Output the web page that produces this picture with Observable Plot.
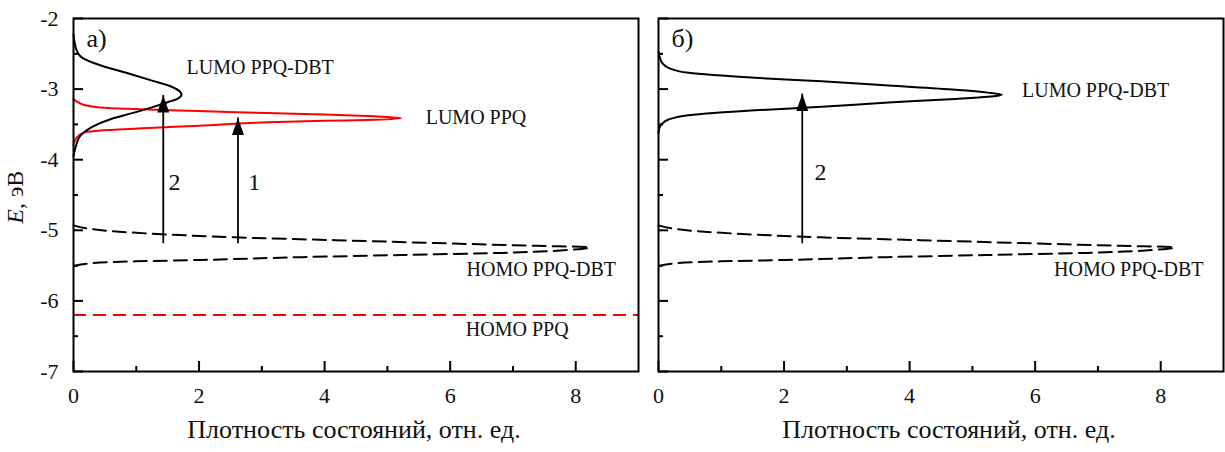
<!DOCTYPE html>
<html><head><meta charset="utf-8">
<script src="https://cdn.jsdelivr.net/npm/d3@7"></script>
<script src="https://cdn.jsdelivr.net/npm/@observablehq/plot@0.6"></script>
<style>
body{margin:0;background:#fff}
#c{position:relative;width:1225px;height:452px;overflow:hidden}
#c svg{position:absolute;top:0}
#c svg text{font-family:'Liberation Serif','Times New Roman',serif !important}
</style>
</head><body><div id="c"></div>
<script>
// ---- data (energy E in eV, density of states in rel. units) ----
const lumoDBT_a_E = [-2.22,-2.35,-2.45,-2.55,-2.67,-2.78,-2.88,-2.97,-3.03,-3.08,-3.13,-3.18,-3.23,-3.33,-3.42,-3.54,-3.66,-3.80,-3.95];
const lumoDBT_a_D = [0,0.02,0.05,0.13,0.45,0.88,1.25,1.57,1.69,1.72,1.67,1.52,1.35,0.98,0.61,0.29,0.11,0.04,0];

const lumoPPQ_E = [-3.14,-3.19,-3.24,-3.27,-3.29,-3.31,-3.34,-3.36,-3.385,-3.41,-3.435,-3.45,-3.47,-3.52,-3.55,-3.58,-3.62,-3.70,-3.78];
const lumoPPQ_D = [0,0.08,0.25,0.6,1.2,2.0,3.1,4.0,4.8,5.22,4.8,4.0,3.1,2.0,1.2,0.55,0.15,0.04,0];

const lumoDBT_b_E = [-2.47,-2.55,-2.63,-2.70,-2.77,-2.84,-2.89,-2.95,-3.01,-3.05,-3.08,-3.11,-3.14,-3.19,-3.25,-3.30,-3.37,-3.43,-3.50,-3.56,-3.62];
const lumoDBT_b_D = [0,0.02,0.06,0.16,0.48,1.54,2.60,3.66,4.73,5.25,5.47,5.25,4.73,3.66,2.60,1.54,0.48,0.16,0.05,0.01,0];

const homoDBT_E = [-4.93,-4.97,-5.00,-5.06,-5.10,-5.14,-5.18,-5.22,-5.24,-5.28,-5.32,-5.35,-5.38,-5.42,-5.44,-5.47,-5.51];
const homoDBT_D = [0,0.2,0.45,1.51,2.58,4.17,5.76,7.36,8.22,7.87,6.82,5.23,3.64,2.04,0.98,0.24,0];

const homoPPQ = [-6.2];

const xMajor = [0,2,4,6,8];
const xMinor = [1,3,5,7];
const yMajor = [-2,-3,-4,-5,-6,-7];
const yMinor = [-2.5,-3.5,-4.5,-5.5,-6.5];

const arrowsA = [{x:1.43, base:-5.19, tip:-3.09, n:"2", nx:1.61, ny:-4.32},
                 {x:2.62, base:-5.19, tip:-3.41, n:"1", nx:2.88, ny:-4.32}];
const arrowsB = [{x:2.29, base:-5.19, tip:-3.07, n:"2", nx:2.58, ny:-4.18}];

const labelsA = [{t:"LUMO PPQ-DBT", x:1.80, y:-2.70},{t:"LUMO PPQ", x:5.61, y:-3.40},
                 {t:"HOMO PPQ-DBT", x:6.26, y:-5.55},{t:"HOMO PPQ", x:6.25, y:-6.41}];
const labelsB = [{t:"LUMO PPQ-DBT", x:5.79, y:-3.02},{t:"HOMO PPQ-DBT", x:6.30, y:-5.55}];

const xTitle = "Плотность состояний, отн. ед.";

const zip = (E, D) => E.map((e, i) => ({e, d: D[i]}));
const F = "'Liberation Serif', 'Times New Roman', serif";
const H = 452, MT = 18, MB = 81;

const head = {draw(ctx){ ctx.moveTo(0,0); ctx.lineTo(-6,17); ctx.lineTo(6,17); ctx.closePath(); }};

function panel({width, marginLeft, yLabels, curves, arrows, labels, tag, homoRed, titleDx}) {
  const innerW = width - marginLeft - 2, innerH = H - MT - MB;
  const marks = [];
  if (homoRed) marks.push(Plot.ruleY(homoRed, {y: d => d, stroke: "#ff0000", strokeWidth: 2, strokeDasharray: "13,7"}));
  for (const c of curves) marks.push(Plot.line(c.data, {x: "d", y: "e", curve: "monotone-y", stroke: c.stroke, strokeWidth: 2, strokeDasharray: c.dash}));
  marks.push(
    Plot.ruleX(arrows, {x: "x", y1: "base", y2: "tip", stroke: "black", strokeWidth: 1.8}),
    Plot.dot(arrows, {x: "x", y: "tip", symbol: head, fill: "black", stroke: "none"}),
    Plot.text(arrows, {x: "nx", y: "ny", text: "n", fontSize: 24, fontFamily: F, fill: "#111"}),
    Plot.text(labels, {x: "x", y: "y", text: "t", textAnchor: "start", fontSize: 20, fontFamily: F, fill: "#111"}),
    Plot.text([tag], {x: 0.0, y: -2.29, text: d => d, dx: 13, textAnchor: "start", fontSize: 26, fontFamily: F, fill: "#111"}),
    Plot.tickX(xMajor, {x: d => d, insetTop: innerH - 10, strokeWidth: 2}),
    Plot.tickX(xMinor, {x: d => d, insetTop: innerH - 5, strokeWidth: 2}),
    Plot.tickY(yMajor, {y: d => d, insetRight: innerW - 10, strokeWidth: 2}),
    Plot.tickY(yMinor, {y: d => d, insetRight: innerW - 5, strokeWidth: 2}),
    Plot.axisX(xMajor, {tickSize: 0, tickPadding: 16, fontSize: 22, fontFamily: F, fill: "#111", tickFormat: d => String(d), label: null}),
    Plot.text([xTitle], {frameAnchor: "bottom", dy: 66, dx: titleDx, text: d => d, fontSize: 26, fontFamily: F, fill: "#111"}),
    Plot.frame({stroke: "black", strokeWidth: 2})
  );
  if (yLabels) {
    marks.push(
      Plot.axisY(yMajor, {tickSize: 0, tickPadding: 15, fontSize: 22, fontFamily: F, fill: "#111", tickFormat: d => String(d), label: null}),
      Plot.text(["E"], {frameAnchor: "left", dx: -58, dy: 14, rotate: -90, textAnchor: "end", text: d => d, fontSize: 24, fontFamily: F, fontStyle: "italic", fill: "#111"}),
      Plot.text([", эВ"], {frameAnchor: "left", dx: -58, dy: 14, rotate: -90, textAnchor: "start", text: d => d, fontSize: 24, fontFamily: F, fill: "#111"})
    );
  }
  return Plot.plot({
    width, height: H, marginLeft, marginRight: 2, marginTop: MT, marginBottom: MB,
    x: {domain: [0, 9], label: null, axis: null},
    y: {domain: [-7, -2], label: null, axis: null},
    style: {fontFamily: F, background: "white", overflow: "visible"},
    marks
  });
}

const left = panel({
  width: 640, marginLeft: 73, yLabels: true, tag: "а)", titleDx: -2,
  homoRed: homoPPQ,
  curves: [
    {data: zip(homoDBT_E, homoDBT_D), stroke: "black", dash: "13,7"},
    {data: zip(lumoPPQ_E, lumoPPQ_D), stroke: "#ff0000"},
    {data: zip(lumoDBT_a_E, lumoDBT_a_D), stroke: "black"}
  ],
  arrows: arrowsA, labels: labelsA
});
const right = panel({
  width: 585, marginLeft: 18, yLabels: false, tag: "б)", titleDx: 8,
  curves: [
    {data: zip(homoDBT_E, homoDBT_D), stroke: "black", dash: "13,7"},
    {data: zip(lumoDBT_b_E, lumoDBT_b_D), stroke: "black"}
  ],
  arrows: arrowsB, labels: labelsB
});
left.style.left = "0px";
right.style.left = "640px";
document.getElementById("c").append(left, right);
</script>
</body></html>
